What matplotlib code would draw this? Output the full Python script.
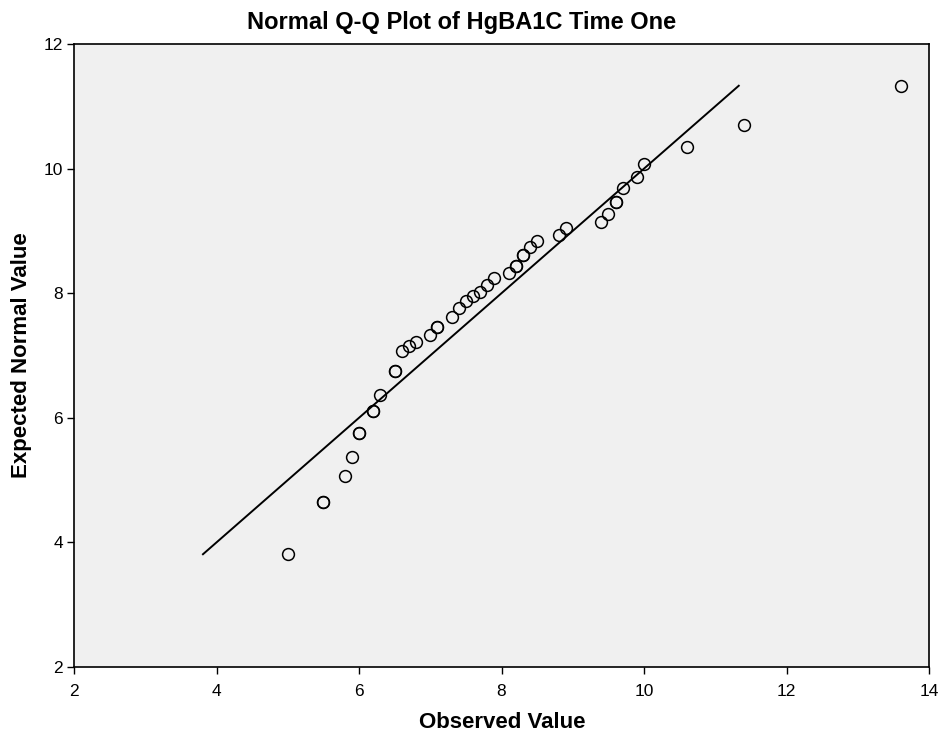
#!/bin/env python
# Normal Q-Q plot of HgBA1C time one, SPSS look
import numpy as np
import matplotlib.pyplot as plt

# observed HgBA1C values (repeated where the circle is drawn over itself)
observed = [5.0, 5.5, 5.5, 5.8, 5.9, 6.0, 6.0, 6.2, 6.2, 6.3, 6.5, 6.5, 6.6, 6.7, 6.8,
            7.0, 7.1, 7.1, 7.3, 7.4, 7.5, 7.6, 7.7, 7.8, 7.9, 8.1, 8.2, 8.2, 8.3, 8.3,
            8.4, 8.5, 8.8, 8.9, 9.4, 9.5, 9.6, 9.6, 9.7, 9.9, 10.0, 10.6, 11.4, 13.6]
# expected normal values
expected = [3.81, 4.65, 4.65, 5.07, 5.37, 5.76, 5.76, 6.11, 6.11, 6.37, 6.75, 6.75, 7.07, 7.15, 7.22,
            7.33, 7.46, 7.46, 7.62, 7.77, 7.87, 7.95, 8.02, 8.13, 8.25, 8.32, 8.44, 8.44, 8.61, 8.61,
            8.74, 8.84, 8.93, 9.04, 9.15, 9.27, 9.46, 9.46, 9.69, 9.87, 10.08, 10.34, 10.70, 11.33]

# reference line ends
line_ends = [3.81, 11.33]

xticks = [2, 4, 6, 8, 10, 12, 14]
yticks = [2, 4, 6, 8, 10, 12]

plt.rcParams['font.family'] = ['Liberation Sans', 'DejaVu Sans']

fig = plt.figure(figsize=(9.42, 7.37), dpi=100)
ax = fig.add_axes([74/942, 70/737, 855/942, 623/737])
ax.set_facecolor('#f0f0f0')

ax.plot(line_ends, line_ends, color='black', lw=1.4, zorder=2)
ax.plot(observed, expected, 'o', mfc='none', mec='black', ms=8.5, mew=1.1, zorder=3)

ax.set_xlim(2, 14)
ax.set_ylim(2, 12)
ax.set_xticks(xticks)
ax.set_yticks(yticks)
ax.tick_params(direction='out', length=5, width=1, labelsize=12.5)
ax.tick_params(axis='x', pad=7)
ax.tick_params(axis='y', pad=3)
for s in ax.spines.values():
    s.set_linewidth(1.2)
    s.set_color('black')

# labels placed by hand, like the SPSS output
fig.text(502/942, 1 - 722/737, 'Observed Value', fontsize=16, fontweight='bold',
         ha='center', va='center')
fig.text(22/942, 1 - 355/737, 'Expected Normal Value', fontsize=16, fontweight='bold',
         ha='center', va='center', rotation=90)
fig.text(462/942, 1 - 22/737, 'Normal Q-Q Plot of HgBA1C Time One', fontsize=17, fontweight='bold',
         ha='center', va='center')

plt.savefig('out.png', dpi=100)
plt.close()
